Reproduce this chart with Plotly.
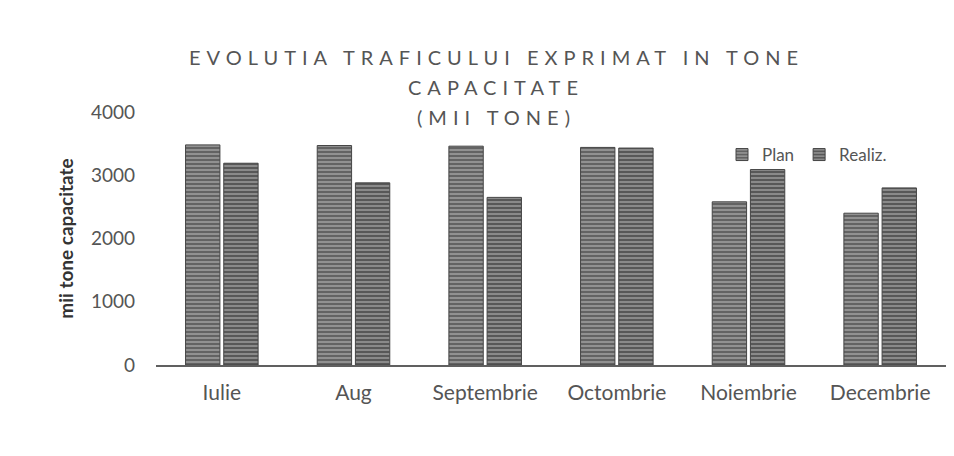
import plotly.graph_objects as go

months = ["Iulie", "Aug", "Septembrie", "Octombrie", "Noiembrie", "Decembrie"]
plan = [3480, 3470, 3460, 3440, 2580, 2400]
realiz = [3190, 2880, 2650, 3430, 3090, 2800]
y_ticks = [0, 1000, 2000, 3000, 4000]

FONT = "Lato, 'Open Sans', sans-serif"
TXT = "#555555"
L, R, T, B = 148, 16, 104, 99
PW, PH = 954 - L - R, 456 - T - B

fig = go.Figure()
for name, vals, col in [("Plan", plan, "#636363"), ("Realiz.", realiz, "#585858")]:
    fig.add_trace(
        go.Bar(
            x=months,
            y=vals,
            name=name,
            marker=dict(
                color=col,
                line=dict(color="#454545", width=1),
                pattern=dict(shape="-", fgcolor="#e8e8e8", size=4, solidity=0.35),
            ),
        )
    )

# title as three letter-spaced lines
title_lines = ["EVOLUTIA TRAFICULUI EXPRIMAT IN TONE", "CAPACITATE", "(MII TONE)"]
for i, line in enumerate(title_lines):
    fig.add_annotation(
        text=f'<span style="letter-spacing:6px">{line}</span>',
        xref="paper", yref="paper",
        x=(488 - L) / PW, y=1 + (T - (49 + 30 * i)) / PH,
        xanchor="center", yanchor="middle",
        showarrow=False,
        font=dict(family=FONT, size=20, color=TXT),
    )

fig.update_xaxes(
    showgrid=False,
    showline=True, linecolor="#606060", linewidth=1.5,
    ticks="",
    ticklabelstandoff=8,
    tickfont=dict(family=FONT, size=21, color=TXT),
)
fig.update_yaxes(
    range=[0, 4000],
    tickvals=y_ticks,
    showgrid=False,
    zeroline=False,
    showline=False,
    ticks="",
    ticklabelstandoff=20,
    tickfont=dict(family=FONT, size=19, color=TXT),
    title=dict(text="<b>mii tone capacitate</b>", font=dict(family=FONT, size=19, color="#333333"), standoff=12),
)

fig.update_layout(
    width=954, height=456,
    margin=dict(l=L, r=R, t=T, b=B),
    paper_bgcolor="white", plot_bgcolor="white",
    barmode="group", bargap=0.42, bargroupgap=0.1,
    legend=dict(
        orientation="h", x=(714 - L) / PW, y=0.83, xanchor="left", yanchor="middle",
        font=dict(family=FONT, size=17, color=TXT),
        itemwidth=30, bgcolor="rgba(0,0,0,0)",
    ),
)

fig.write_html("out.html")
